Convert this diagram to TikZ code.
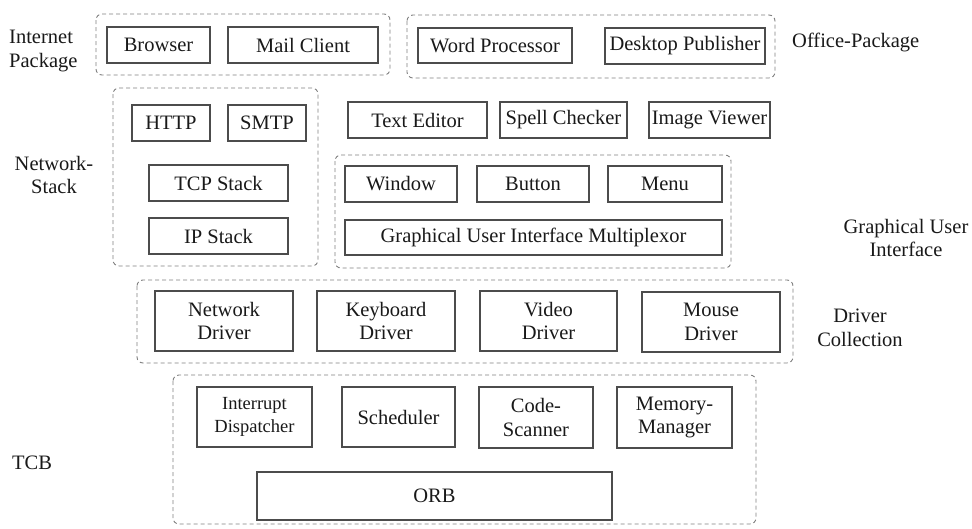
\documentclass[tikz,border=0pt]{standalone}
\usepackage{fontspec}
\setmainfont{Liberation Serif}
\begin{document}
\begin{tikzpicture}[x=1pt,y=-1pt,
  txt/.style={font=\fontsize{20.5}{23.5}\selectfont, inner sep=0pt, text=black!90},
  blk/.style={txt, draw=black!70, line width=1.2pt, align=center},
  grp/.style={draw=black!50, line width=0.9pt, dash pattern=on 4pt off 3pt, rounded corners=6pt},
  lbl/.style={txt, align=center}]
\useasboundingbox (0,0) rectangle (972,528);

% dashed group frames
\draw[grp] (96,14)  rectangle (390,75);
\draw[grp] (407,15) rectangle (775,78);
\draw[grp] (113,88) rectangle (318,266);
\draw[grp] (335,155) rectangle (731,268);
\draw[grp] (137,280) rectangle (793,363);
\draw[grp] (173,375) rectangle (756,524);

% application row
\node[blk, minimum width=103, minimum height=36] (browser) at (158.5,45) {Browser};
\node[blk, minimum width=150, minimum height=36] (mail) at (303,45) {Mail Client};
\node[blk, minimum width=154, minimum height=35] (word) at (495,45.5) {Word Processor};
\node[blk, minimum width=160, minimum height=36] (desk) at (685,46) {Desktop Publisher};

% network stack
\node[blk, minimum width=78, minimum height=36] (http) at (171,123) {HTTP};
\node[blk, minimum width=78, minimum height=36] (smtp) at (267,123) {SMTP};
\node[blk, minimum width=139, minimum height=36] (tcp) at (218.5,183) {TCP Stack};
\node[blk, minimum width=139, minimum height=36] (ip) at (218.5,236) {IP Stack};

% tools
\node[blk, minimum width=139, minimum height=36] (texted) at (417.5,120) {Text Editor};
\node[blk, minimum width=127, minimum height=36] (spell) at (563.5,120) {Spell Checker};
\node[blk, minimum width=121, minimum height=36] (imgview) at (709.5,120) {Image Viewer};

% graphical user interface
\node[blk, minimum width=112, minimum height=36] (window) at (401,184) {Window};
\node[blk, minimum width=112, minimum height=36] (button) at (533,184) {Button};
\node[blk, minimum width=114, minimum height=36] (menu) at (665,184) {Menu};
\node[blk, minimum width=377, minimum height=35] (mux) at (533.5,237.5) {Graphical User Interface Multiplexor};

% drivers
\node[blk, minimum width=138, minimum height=60] (netdrv) at (224,321) {Network\\Driver};
\node[blk, minimum width=138, minimum height=60] (kbddrv) at (386,321) {Keyboard\\Driver};
\node[blk, minimum width=137, minimum height=60] (viddrv) at (548.5,321) {Video\\Driver};
\node[blk, minimum width=138, minimum height=60] (mousedrv) at (711,322) {Mouse\\Driver};

% trusted computing base
\node[blk, minimum width=115, minimum height=60, font=\fontsize{18.5}{22.5}\selectfont] (irq) at (254.5,417) {Interrupt\\Dispatcher};
\node[blk, minimum width=113, minimum height=60] (sched) at (398.5,417) {Scheduler};
\node[blk, minimum width=114, minimum height=61] (codescan) at (536,417.5) {Code-\\Scanner};
\node[blk, minimum width=115, minimum height=61] (memmgr) at (674.5,417.5) {Memory-\\Manager};
\node[blk, minimum width=355, minimum height=48] (orb) at (434.5,496) {ORB};

% group labels
\node[lbl, align=left, anchor=west] (linet) at (9,51) {Internet\\Package};
\node[lbl, anchor=west] (loffice) at (792,42) {Office-Package};
\node[lbl] (lnet) at (54,175) {Network-\\Stack};
\node[lbl] (lgui) at (906,238) {Graphical User\\Interface};
\node[lbl] (ldrv) at (860,328) {Driver\\Collection};
\node[lbl, anchor=west] (ltcb) at (12,463) {TCB};
\end{tikzpicture}
\end{document}
